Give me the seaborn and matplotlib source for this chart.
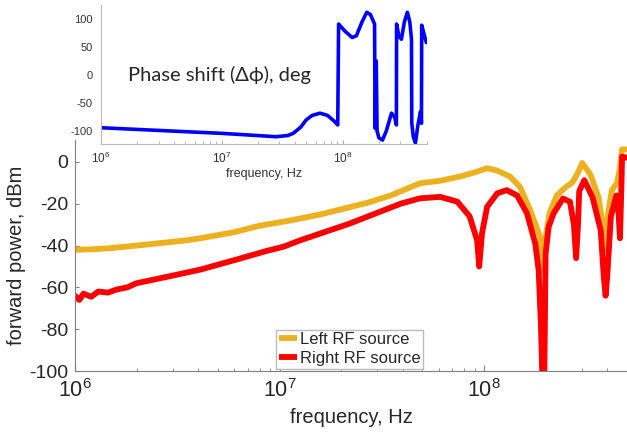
import numpy as np
import pandas as pd
import matplotlib
matplotlib.use("Agg")
import matplotlib.pyplot as plt
import seaborn as sns
from matplotlib.ticker import LogLocator, NullFormatter

sns.set_style("white")
plt.rcParams['font.family'] = ['Liberation Sans', 'DejaVu Sans']
plt.rcParams['mathtext.fontset'] = 'custom'
plt.rcParams['mathtext.rm'] = 'Liberation Sans'
plt.rcParams['axes.unicode_minus'] = False
plt.rcParams['lines.solid_joinstyle'] = 'round'
plt.rcParams['lines.solid_capstyle'] = 'round'

# forward power, left RF source
freq_left = [1.0e6, 1.2e6, 1.5e6, 2.0e6, 2.8e6, 3.5e6, 4.1e6, 6.0e6, 8.0e6,
             1.13e7, 1.6e7, 2.7e7, 3.5e7, 4.86e7, 6.1e7, 7.6e7, 9.0e7, 1.035e8,
             1.15e8, 1.34e8, 1.5e8, 1.68e8, 1.88e8, 1.94e8, 2.0e8, 2.09e8,
             2.27e8, 2.51e8, 2.69e8, 2.85e8, 3.02e8, 3.31e8, 3.63e8, 3.78e8,
             3.89e8, 4.05e8, 4.22e8, 4.47e8, 4.6e8, 4.73e8, 5.0e8]
power_left = [-42, -41.8, -41.2, -40, -38.5, -37.5, -36.5, -33.6, -30.5,
              -28, -25, -19.5, -16, -10.2, -9, -7, -5, -3,
              -4, -7, -12, -23, -36, -52, -36, -24.5,
              -16, -12, -10, -6, -0.5, -6, -17, -28,
              -42, -24, -13.5, -10, -4, 6, 6]

# forward power, right RF source
freq_right = [1.0e6, 1.05e6, 1.1e6, 1.2e6, 1.3e6, 1.45e6, 1.6e6, 1.8e6, 2.0e6,
              2.8e6, 4.1e6, 6.0e6, 8.7e6, 1.05e7, 1.26e7, 2.2e7, 3.9e7, 4.86e7,
              6.1e7, 7.4e7, 8.5e7, 9.25e7, 9.47e7, 9.78e7, 1.035e8, 1.16e8,
              1.29e8, 1.45e8, 1.62e8, 1.78e8, 1.85e8, 1.9e8, 1.93e8, 1.97e8,
              2.0e8, 2.07e8, 2.19e8, 2.43e8, 2.63e8, 2.75e8, 2.82e8, 2.88e8,
              2.92e8, 3.09e8, 3.39e8, 3.72e8, 3.85e8, 3.93e8, 4.0e8, 4.17e8,
              4.44e8, 4.55e8, 4.62e8, 4.7e8, 4.73e8, 5.0e8]
power_right = [-64, -66, -63, -64.5, -62, -62.5, -61, -60, -58,
               -55, -51.5, -47, -42.5, -40.5, -37.5, -29.5, -20, -17.4,
               -16.7, -19, -26, -37.5, -50, -34, -21.5, -15,
               -13.5, -16, -24.5, -39, -52, -80, -105, -105,
               -44, -31, -24.5, -17.5, -19, -30, -46, -30,
               -14, -8.7, -16.8, -32.7, -55, -64, -55, -26,
               -16, -25, -36.5, -10, 2.5, 2]

# phase shift between sources, deg
freq_phase = [1.0e6, 2.0e6, 5.0e6, 1.0e7, 2.0e7, 2.8e7, 3.5e7, 3.9e7, 4.5e7,
              5.0e7, 5.6e7, 6.5e7, 7.5e7, 8.5e7, 9.12e7, 9.27e7, 1.05e8, 1.2e8,
              1.3e8, 1.45e8, 1.585e8, 1.7e8, 1.84e8, 1.86e8, 1.9e8, 1.93e8,
              2.0e8, 2.14e8, 2.3e8, 2.54e8, 2.7e8, 2.79e8, 2.8e8, 2.92e8,
              3.07e8, 3.25e8, 3.44e8, 3.6e8, 3.72e8, 3.74e8, 3.85e8, 4.01e8,
              4.2e8, 4.42e8, 4.5e8, 4.52e8, 4.7e8, 4.94e8]
phase_deg = [-94, -97, -101, -104, -108, -110, -108, -104, -93,
             -80, -72, -68, -72, -82, -89, 91, 78, 67,
             70, 95, 112, 108, 91, -95, 25, -100,
             -112, -116, -100, -68, -75, -89, 91, 70,
             64, 95, 112, 95, 64, -86, -110, -121,
             -90, -65, -86, 89, 75, 58]

left = pd.DataFrame({'f': freq_left, 'p': power_left})
right = pd.DataFrame({'f': freq_right, 'p': power_right})
phase = pd.DataFrame({'f': freq_phase, 'deg': phase_deg})

fig = plt.figure(figsize=(6.27, 4.32), dpi=100)
ax = fig.add_axes([75/627, 1 - 371/432, 552/627, 231/432])

sns.lineplot(data=left, x='f', y='p', ax=ax, color='#EDB120', lw=4.2,
             estimator=None, sort=False, label='Left RF source')
sns.lineplot(data=right, x='f', y='p', ax=ax, color='#FF0000', lw=4.2,
             estimator=None, sort=False, label='Right RF source')
ax.set_xscale('log')
ax.set_xlim(1e6, 5e8)
ax.set_ylim(-100, 10.5)
ax.set_yticks(range(-100, 1, 20))
ax.set_xticks([1e6, 1e7, 1e8])
ax.xaxis.set_minor_locator(LogLocator(base=10, subs=np.arange(2, 10)))
ax.xaxis.set_minor_formatter(NullFormatter())
ax.set_xticklabels([r'$10^{6}$', r'$10^{7}$', r'$10^{8}$'], fontsize=15.5)
ax.tick_params(axis='y', labelsize=14, direction='in', length=3, pad=5,
               color='#808080', left=True)
ax.tick_params(axis='x', which='both', direction='in', color='#808080',
               pad=6, bottom=True)
ax.tick_params(axis='x', which='major', length=4)
ax.tick_params(axis='x', which='minor', length=2.5)
for s in ['top', 'right']:
    ax.spines[s].set_visible(False)
for s in ['left', 'bottom']:
    ax.spines[s].set_color('#808080')
ax.set_xlabel('frequency, Hz', fontsize=14.5)
ax.set_ylabel('forward power, dBm', fontsize=14.5, labelpad=2)
leg = ax.legend(loc='lower left', bbox_to_anchor=(0.365, 0.01), fontsize=12,
                handlelength=1.1, handletextpad=0.15, borderpad=0.15,
                labelspacing=0.25, borderaxespad=0, fancybox=False,
                framealpha=1, edgecolor='#bbbbbb')
for h in leg.get_lines():
    h.set_solid_capstyle('butt')

# inset with the phase shift
ax_in = fig.add_axes([101/627, 1 - 144/432, 326/627, 139/432])
sns.lineplot(data=phase, x='f', y='deg', ax=ax_in, color='#0000FF', lw=2.6,
             estimator=None, sort=False)
ax_in.set_xscale('log')
ax_in.set_xlim(1e6, 5e8)
ax_in.set_ylim(-123, 125)
ax_in.set_yticks([-100, -50, 0, 50, 100])
ax_in.set_xticks([1e6, 1e7, 1e8])
ax_in.xaxis.set_minor_locator(LogLocator(base=10, subs=np.arange(2, 10)))
ax_in.xaxis.set_minor_formatter(NullFormatter())
ax_in.set_xticklabels([r'$10^{6}$', r'$10^{7}$', r'$10^{8}$'])
ax_in.tick_params(axis='y', labelsize=8, length=0, pad=6, labelcolor='#333333')
ax_in.tick_params(axis='x', which='both', direction='in', color='#aaaaaa',
                  labelsize=8.5, pad=5, labelcolor='#333333', bottom=True)
ax_in.tick_params(axis='x', which='major', length=3)
ax_in.tick_params(axis='x', which='minor', length=2)
for s in ['top', 'right']:
    ax_in.spines[s].set_visible(False)
for s in ['left', 'bottom']:
    ax_in.spines[s].set_color('#bbbbbb')
ax_in.set_xlabel('frequency, Hz', fontsize=9, labelpad=1, color='#333333')
ax_in.set_ylabel('')
ax_in.text(1.67e6, 0, 'Phase shift (\u0394\u03d5), deg', fontsize=14.5,
           va='center', ha='left', family=['Lato', 'DejaVu Sans'])

fig.savefig('out.png', dpi=100)
